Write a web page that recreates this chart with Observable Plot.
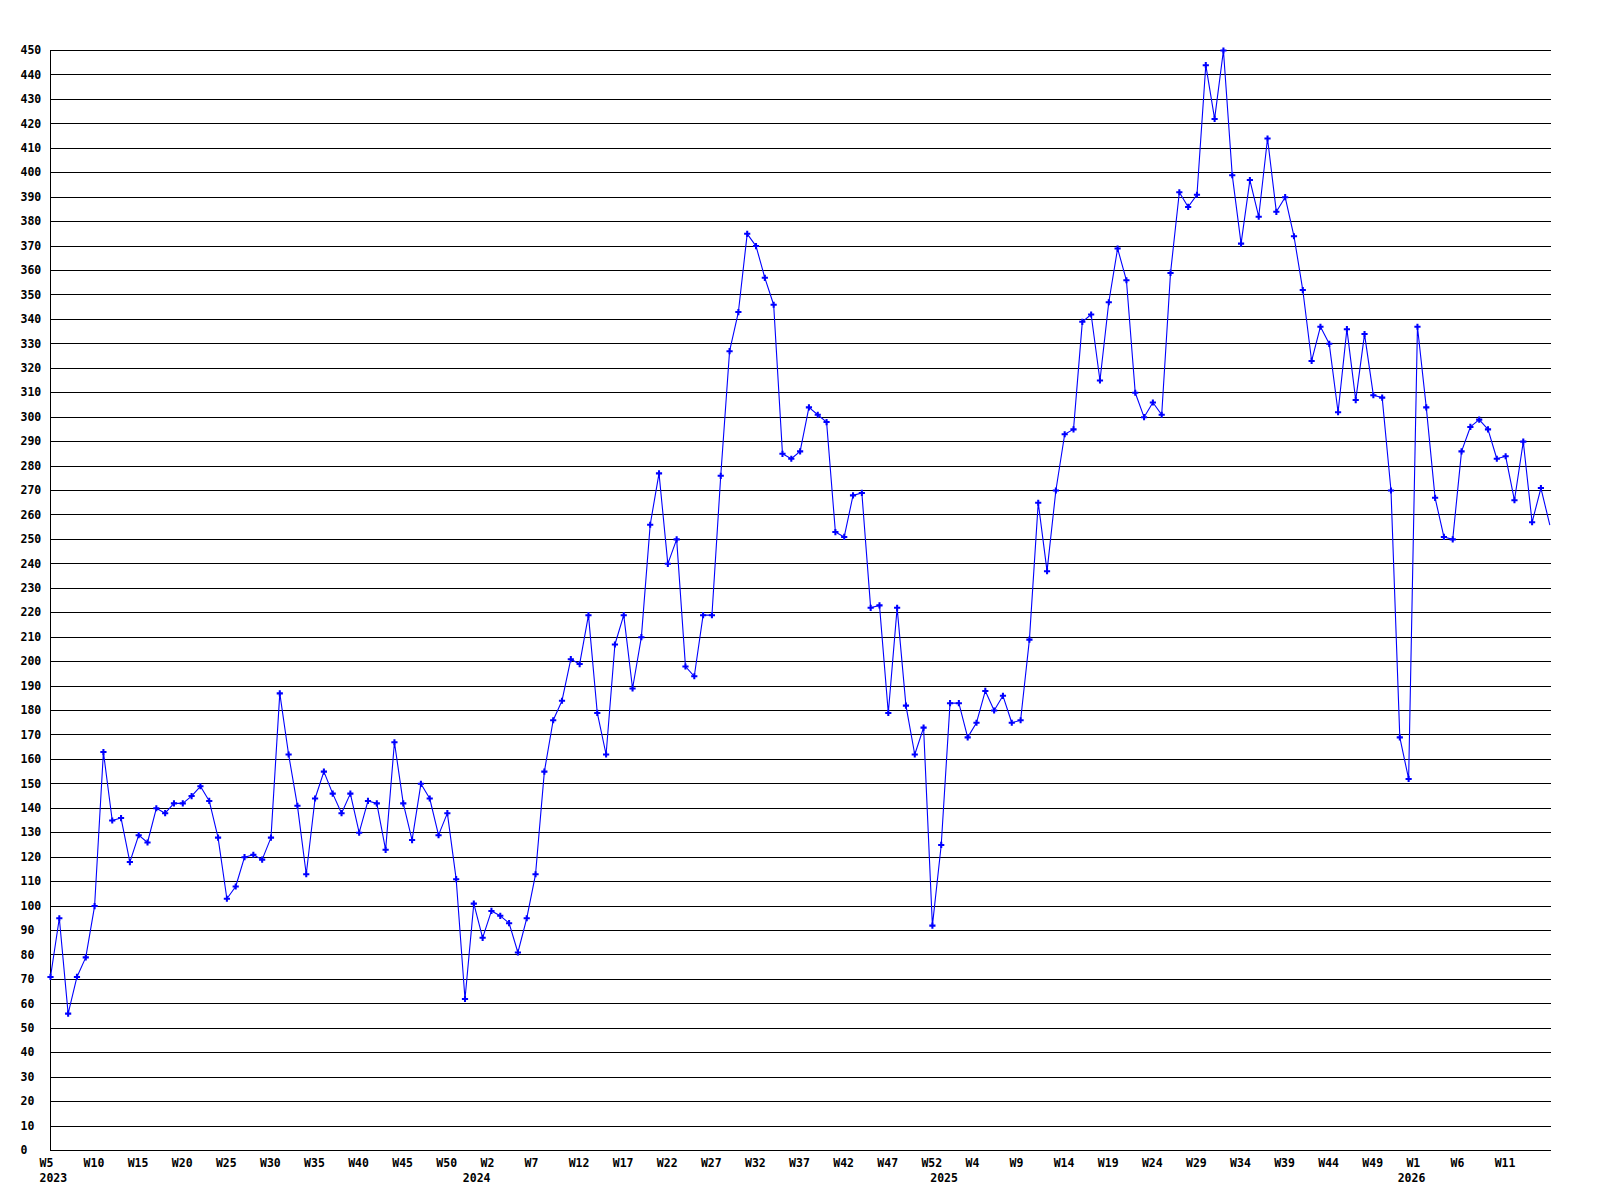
<!DOCTYPE html>
<html><head><meta charset="utf-8">
<script src="https://cdn.jsdelivr.net/npm/d3@7"></script>
<script src="https://cdn.jsdelivr.net/npm/@observablehq/plot@0.6"></script>
<style>html,body{margin:0;padding:0;background:#fff;} #chart svg{display:block}</style>
</head><body><div id="chart"></div>
<script>
// Weekly series, 2023 W5 ... 2026 W16 (weeks numbered W0..W52)
const values = [
  71, 95, 56, 71, 79, 100, 163, 135, 136, 118,
  129, 126, 140, 138, 142, 142, 145, 149, 143, 128,
  103, 108, 120, 121, 119, 128, 187, 162, 141, 113,
  144, 155, 146, 138, 146, 130, 143, 142, 123, 167,
  142, 127, 150, 144, 129, 138, 111, 62, 101, 87,
  98, 96, 93, 81, 95, 113, 155, 176, 184, 201,
  199, 219, 179, 162, 207, 219, 189, 210, 256, 277,
  240, 250, 198, 194, 219, 219, 276, 327, 343, 375,
  370, 357, 346, 285, 283, 286, 304, 301, 298, 253,
  251, 268, 269, 222, 223, 179, 222, 182, 162, 173,
  92, 125, 183, 183, 169, 175, 188, 180, 186, 175,
  176, 209, 265, 237, 270, 293, 295, 339, 342, 315,
  347, 369, 356, 310, 300, 306, 301, 359, 392, 386,
  391, 444, 422, 450, 399, 371, 397, 382, 414, 384,
  390, 374, 352, 323, 337, 330, 302, 336, 307, 334,
  309, 308, 270, 169, 152, 337, 304, 267, 251, 250,
  286, 296, 299, 295, 283, 284, 266, 290, 257, 271,
  256
];
const tickLabels = ["W5","W10","W15","W20","W25","W30","W35","W40","W45","W50",
  "W2","W7","W12","W17","W22","W27","W32","W37","W42","W47","W52",
  "W4","W9","W14","W19","W24","W29","W34","W39","W44","W49",
  "W1","W6","W11"];
const yearLabels = ["2023","2024","2025","2026"];
const firstWeek = 5;
const weeksPerYear = 53;
const yTicks = d3.range(0, 451, 10);

const data = values.map((v, i) => ({i, v}));
const tickIdx = tickLabels.map((_, k) => k * 5);
const yearIdx = yearLabels.map((_, k) => k === 0 ? 0 : (weeksPerYear - firstWeek) + (k - 1) * weeksPerYear);

const chart = Plot.plot({
  width: 1600,
  height: 1200,
  marginLeft: 50,
  marginRight: 49,
  marginTop: 50,
  marginBottom: 50,
  style: {fontFamily: "'DejaVu Sans Mono', monospace", fontSize: "11.5px", fontWeight: "bold", background: "#fff", color: "#000"},
  x: {domain: [0, 170.2], axis: null},
  y: {domain: [0, 450], axis: null},
  marks: [
    Plot.ruleY(yTicks, {stroke: "#000", strokeWidth: 1, shapeRendering: "crispEdges"}),
    Plot.ruleX([0], {y1: 0, y2: 450, stroke: "#000", strokeWidth: 1, shapeRendering: "crispEdges"}),
    Plot.axisY({ticks: yTicks, tickSize: 0, tickPadding: 30, textAnchor: "start", label: null, tickFormat: d => String(d)}),
    Plot.axisX({ticks: tickIdx, tickSize: 0, tickPadding: 8, textAnchor: "start", dx: -11, label: null,
      tickFormat: d => tickLabels[Math.round(d / 5)]}),
    Plot.axisX({ticks: yearIdx, tickSize: 0, tickPadding: 23, textAnchor: "start", dx: -11, label: null,
      tickFormat: d => yearLabels[yearIdx.indexOf(d)]}),
    Plot.line(data, {x: "i", y: "v", stroke: "#0000ff", strokeWidth: 1.1, clip: true}),
    Plot.dot(data.slice(0, -1), {x: "i", y: "v", symbol: "cross", r: 2.6, fill: "#0000ff", stroke: "none"})
  ]
});
document.getElementById("chart").appendChild(chart);
</script>
</body></html>
